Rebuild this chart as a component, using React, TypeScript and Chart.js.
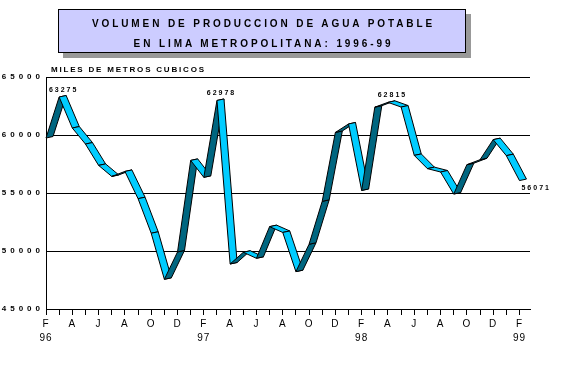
import React, { useEffect, useRef } from 'react';
import { Chart, registerables } from 'chart.js';

Chart.register(...registerables);

// Months from Feb 1996 to Feb 1999 (Spanish initials)
const monthLabels = [
  'F', 'M', 'A', 'M', 'J', 'J', 'A', 'S', 'O', 'N', 'D', 'E',
  'F', 'M', 'A', 'M', 'J', 'J', 'A', 'S', 'O', 'N', 'D', 'E',
  'F', 'M', 'A', 'M', 'J', 'J', 'A', 'S', 'O', 'N', 'D', 'E',
  'F',
];
const yearLabels = ['96', '97', '98', '99'];

// Thousands of cubic metres
const production = [
  59740, 63275, 60600, 59220, 57380, 56430, 56860, 54510, 51530, 47560, 49920, 57810,
  56350, 62978, 48880, 49890, 49370, 52100, 51600, 48220, 50580, 54280, 60220, 60950,
  55220, 62400, 62815, 62410, 58240, 57100, 56810, 54910, 57440, 57870, 59600, 58220,
  56071,
];

const labeledPoints = [1, 13, 26, 36];

const yMin = 45000;
const yMax = 65000;
const yStep = 5000;

const titleLines = ['VOLUMEN DE PRODUCCION DE AGUA POTABLE', 'EN LIMA METROPOLITANA: 1996-99'];
const axisTitle = 'MILES DE METROS CUBICOS';

const FONT = '"Liberation Sans", Arial, sans-serif';
const DARK = '#006680';
const LIGHT = '#00CCFF';

const ribbonPlugin = {
  id: 'ribbon3d',
  beforeDraw(chart: any) {
    const spacing: Record<string, string> = { x: '1px', y: '4px' };
    for (const id of ['x', 'y']) {
      const s = chart.scales[id];
      if (s && !s.__patched) {
        const orig = s.drawLabels.bind(s);
        s.drawLabels = (area: any) => {
          const c = chart.ctx;
          c.save();
          (c as any).letterSpacing = spacing[id];
          orig(area);
          c.restore();
        };
        s.__patched = true;
      }
    }
  },
  afterDatasetsDraw(chart: any) {
    const ctx = chart.ctx as CanvasRenderingContext2D;
    const pts = chart.getDatasetMeta(0).data;
    const dx = 7;
    const dy = -1.5;
    ctx.save();
    ctx.lineWidth = 1;
    ctx.strokeStyle = '#000';
    ctx.lineJoin = 'miter';
    for (let i = 0; i < pts.length - 1; i++) {
      const p = pts[i];
      const q = pts[i + 1];
      const cross = (q.x - p.x) * dy - (q.y - p.y) * dx;
      ctx.fillStyle = cross > 0 ? DARK : LIGHT;
      ctx.beginPath();
      ctx.moveTo(p.x, p.y);
      ctx.lineTo(q.x, q.y);
      ctx.lineTo(q.x + dx, q.y + dy);
      ctx.lineTo(p.x + dx, p.y + dy);
      ctx.closePath();
      ctx.fill();
      ctx.stroke();
    }
    ctx.restore();
  },
  afterDraw(chart: any) {
    const ctx = chart.ctx as CanvasRenderingContext2D;
    const pts = chart.getDatasetMeta(0).data;
    ctx.save();
    ctx.fillStyle = '#000';
    ctx.font = `bold 7px ${FONT}`;
    (ctx as any).letterSpacing = '2px';
    ctx.textBaseline = 'middle';
    labeledPoints.forEach((i, k) => {
      const p = pts[i];
      const txt = String(production[i]);
      if (k === labeledPoints.length - 1) {
        ctx.textAlign = 'left';
        ctx.fillText(txt, p.x + 2, p.y + 7);
      } else {
        ctx.textAlign = 'center';
        ctx.fillText(txt, p.x + 4.5, p.y - 7);
      }
    });
    // axis title
    ctx.font = `bold 8px ${FONT}`;
    (ctx as any).letterSpacing = '0px';
    const w0 = ctx.measureText(axisTitle).width;
    const target = 153;
    const sp = (target - w0) / (axisTitle.length - 1);
    (ctx as any).letterSpacing = `${sp}px`;
    ctx.textAlign = 'left';
    ctx.fillText(axisTitle, chart.chartArea.left + 5, chart.chartArea.top - 7);
    ctx.restore();
  },
};

export default function App() {
  const ref = useRef<HTMLCanvasElement>(null);

  useEffect(() => {
    const canvas = ref.current;
    if (!canvas) return;
    const chart = new Chart(canvas, {
      type: 'line',
      data: {
        datasets: [
          {
            data: production.map((v, i) => ({ x: i, y: v })),
            borderWidth: 0,
            pointRadius: 0,
            showLine: false,
          },
        ],
      },
      options: {
        responsive: false,
        animation: false,
        devicePixelRatio: 1,
        layout: { padding: { top: 77, right: 34, left: 0, bottom: 0 } },
        plugins: {
          legend: { display: false },
          tooltip: { enabled: false },
          title: { display: false },
        },
        scales: {
          x: {
            type: 'linear',
            min: 0,
            max: monthLabels.length - 1 + 0.8,
            position: 'bottom',
            afterFit: (s: any) => {
              s.height = 81;
            },
            afterBuildTicks: (s: any) => {
              s.ticks = monthLabels.map((_, i) => ({ value: i }));
            },
            grid: {
              drawOnChartArea: false,
              drawTicks: true,
              tickLength: 6,
              color: '#000',
              lineWidth: 1,
            },
            border: { color: '#000', width: 1 },
            ticks: {
              stepSize: 1,
              includeBounds: false,
              autoSkip: false,
              maxRotation: 0,
              minRotation: 0,
              color: '#000',
              padding: 2,
              font: { family: FONT, size: 10, lineHeight: 1.4 },
              callback: (value: any) => {
                const i = Math.round(Number(value));
                if (i % 2 !== 0) return '';
                const m = monthLabels[i];
                if (i % 12 === 0) return [m, yearLabels[i / 12]];
                return m;
              },
            },
          },
          y: {
            min: yMin,
            max: yMax,
            afterFit: (s: any) => {
              s.width = 46;
            },
            grid: { color: '#000', lineWidth: 1, drawTicks: false },
            border: { color: '#000', width: 1 },
            ticks: {
              stepSize: yStep,
              color: '#000',
              padding: 2,
              font: { family: FONT, size: 8, weight: 'bold' },
              callback: (v: any) => String(v),
            },
          },
        },
      },
      plugins: [ribbonPlugin],
    } as any);
    return () => chart.destroy();
  }, []);

  return (
    <div style={{ position: 'absolute', left: 0, top: 0, width: 564, height: 390, background: '#fff' }}>
      <canvas ref={ref} width={564} height={390} style={{ position: 'absolute', left: 0, top: 0 }} />
      <div
        style={{
          position: 'absolute',
          left: 58,
          top: 9,
          width: 408,
          height: 44,
          boxSizing: 'border-box',
          border: '1px solid #000',
          background: '#CCCCFF',
          boxShadow: '5px 5px 0 #999999',
          fontFamily: FONT,
          fontWeight: 'bold',
          fontSize: 10,
          letterSpacing: 2.9,
          lineHeight: '19.7px',
          textAlign: 'center',
          paddingTop: 4,
          paddingLeft: 3,
          color: '#000',
        }}
      >
        <div>{titleLines[0]}</div>
        <div>{titleLines[1]}</div>
      </div>
    </div>
  );
}
